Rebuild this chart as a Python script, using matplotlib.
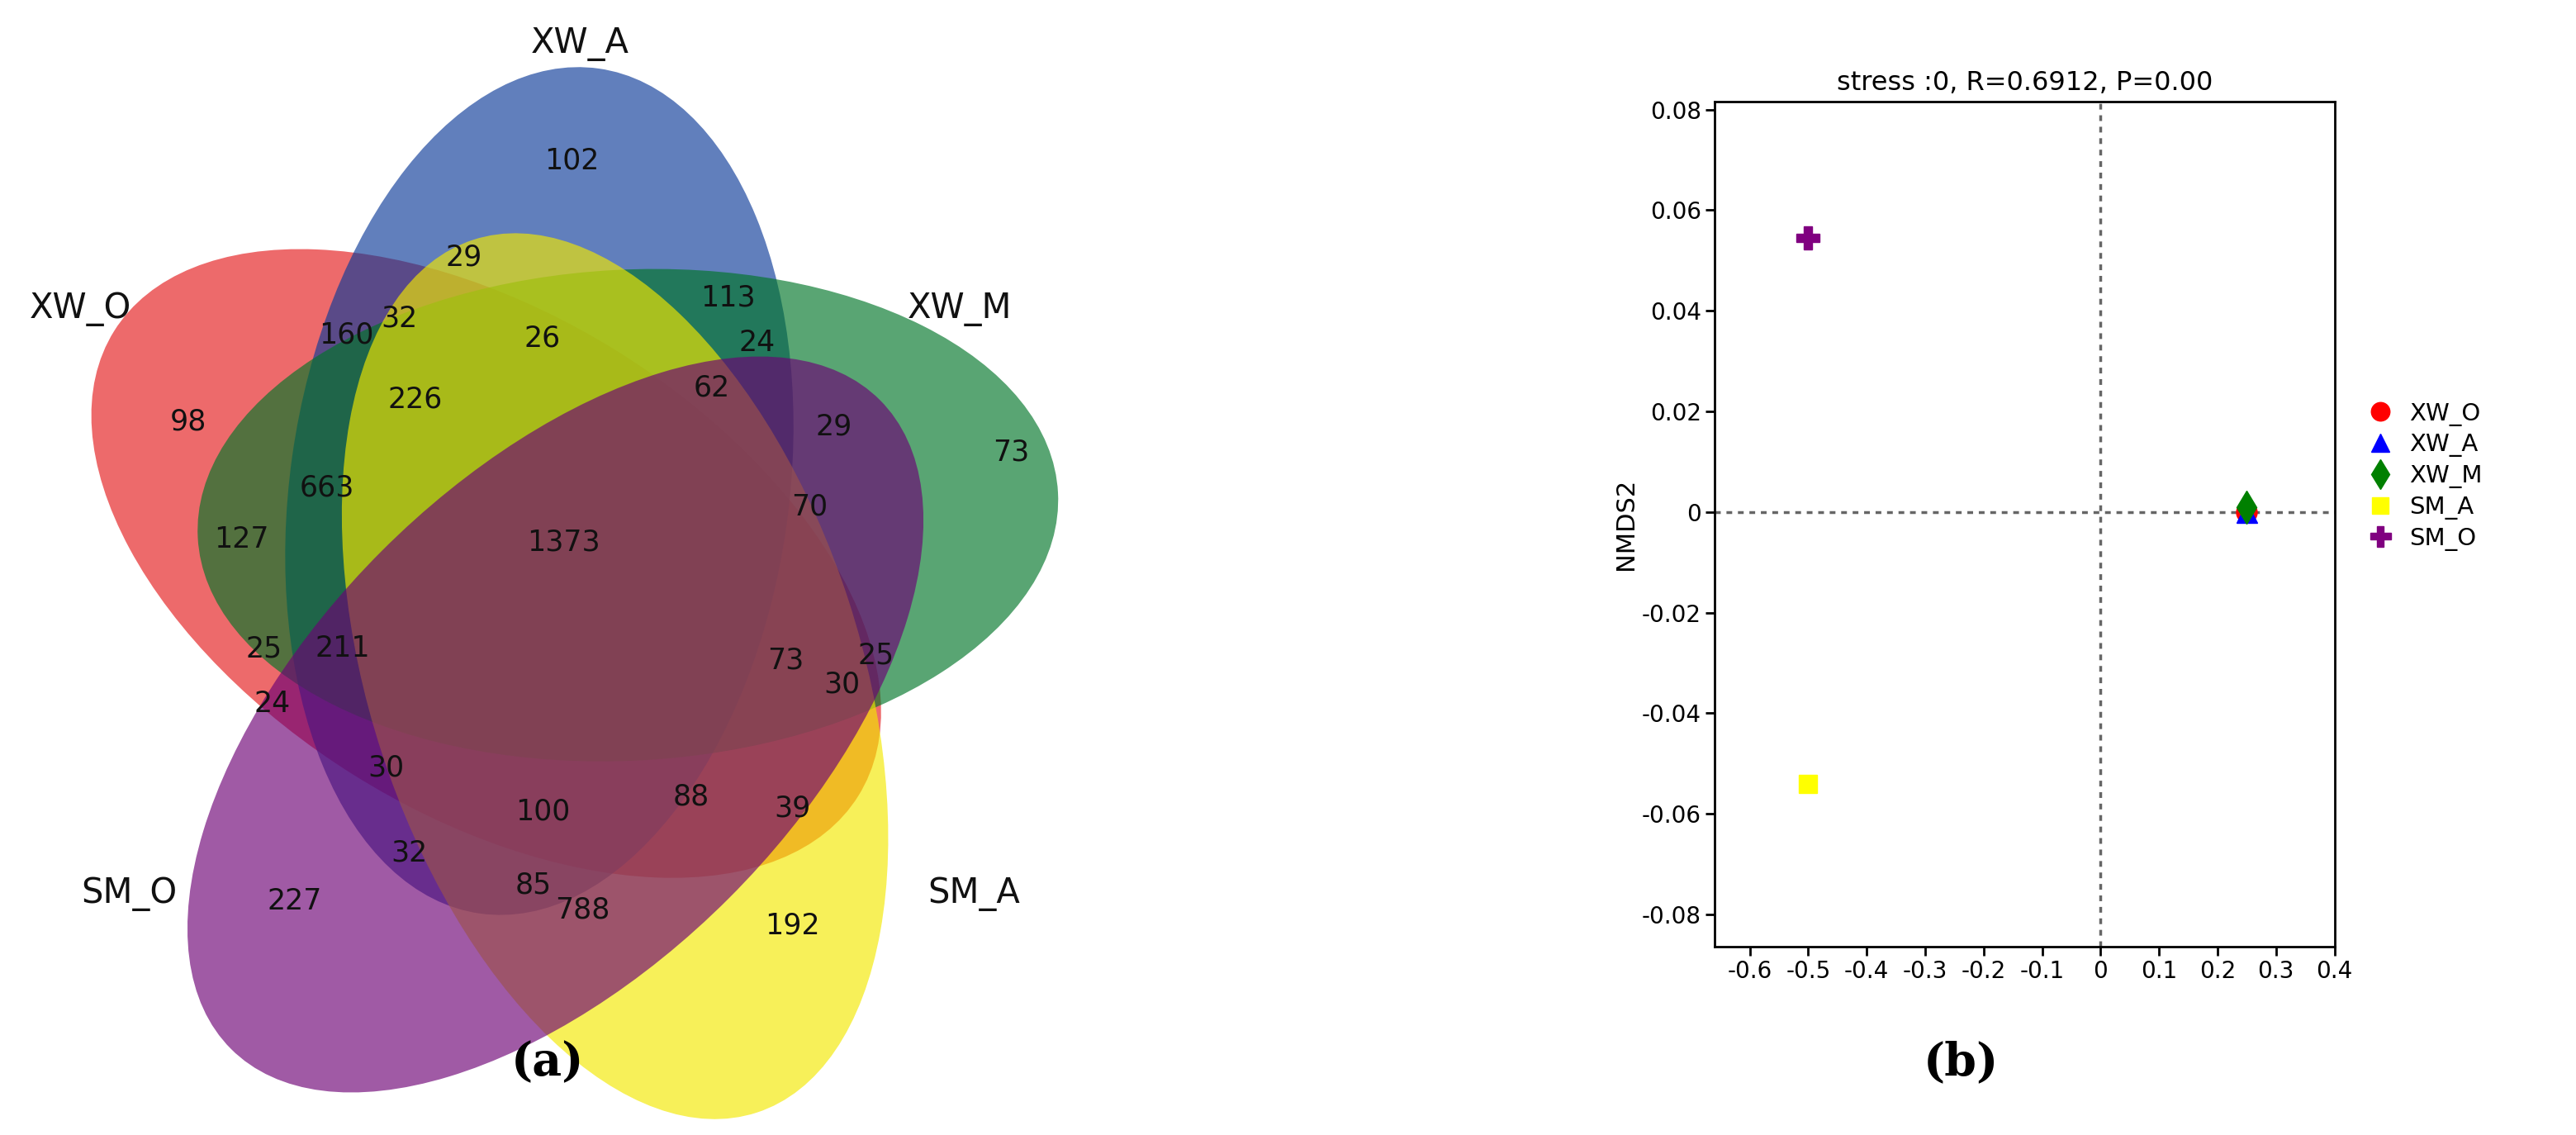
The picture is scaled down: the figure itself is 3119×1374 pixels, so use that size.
import matplotlib
matplotlib.use("Agg")
import matplotlib.pyplot as plt
from matplotlib.patches import Ellipse

# ---------------- data ----------------
set_names = ["XW_O", "XW_A", "XW_M", "SM_A", "SM_O"]
set_colors = ["#E41A1C", "#0C3A98", "#007528", "#F3E800", "#6D0175"]
# ellipse geometry in display units (center x, center y, angle deg)
ell_cx = [302, 335, 390, 382, 345]
ell_cy = [350, 305, 320, 420, 450]
ell_ang = [-32, 82, 3, 108, 45]
ell_len = [545, 530, 535, 570, 570]
ell_wid = [310, 310, 305, 305, 305]
set_label_x = [50, 360, 596, 605, 80]
set_label_y = [192, 27, 192, 555, 555]

counts = ["102", "29", "113", "32", "160", "26", "24", "98", "226", "62", "29", "73",
          "663", "70", "127", "1373", "25", "211", "73", "25", "30", "24", "30",
          "100", "88", "39", "32", "85", "788", "227", "192"]
count_x = [355, 288, 452, 248, 215, 337, 470, 117, 258, 442, 518, 628,
           203, 503, 150, 350, 164, 213, 488, 544, 523, 169, 240,
           337, 429, 492, 254, 331, 362, 183, 492]
count_y = [100, 160, 185, 198, 208, 210, 213, 262, 248, 241, 265, 281,
           303, 315, 335, 337, 403, 403, 410, 407, 425, 437, 477,
           504, 495, 502, 530, 550, 565, 560, 575]

nmds_groups = ["XW_O", "XW_A", "XW_M", "SM_A", "SM_O"]
nmds_x = [0.25, 0.25, 0.25, -0.5, -0.5]
nmds_y = [0.0, 0.0, 0.001, -0.054, 0.0545]
nmds_colors = ["red", "blue", "green", "yellow", "purple"]
nmds_markers = ["o", "^", "d", "s", "P"]
nmds_sizes = [18, 18, 20, 16, 20]
xticks = [-0.6, -0.5, -0.4, -0.3, -0.2, -0.1, 0, 0.1, 0.2, 0.3, 0.4]
xtick_labels = ["-0.6", "-0.5", "-0.4", "-0.3", "-0.2", "-0.1", "0", "0.1", "0.2", "0.3", "0.4"]
yticks = [-0.08, -0.06, -0.04, -0.02, 0, 0.02, 0.04, 0.06, 0.08]
ytick_labels = ["-0.08", "-0.06", "-0.04", "-0.02", "0", "0.02", "0.04", "0.06", "0.08"]

fig = plt.figure(figsize=(31.19, 13.74), dpi=100)

# ---------------- Venn ----------------
av = fig.add_axes([0, 0, 0.4125, 1])
av.set_xlim(0, 660)
av.set_ylim(705, 0)
av.axis("off")
for i in range(5):
    av.add_patch(Ellipse((ell_cx[i], ell_cy[i]), ell_len[i], ell_wid[i],
                         angle=-ell_ang[i], facecolor=set_colors[i],
                         alpha=0.65, edgecolor="none", zorder=i + 1))
for t, x, y in zip(counts, count_x, count_y):
    av.text(x, y, t, ha="center", va="center", fontsize=25, color="#111111", zorder=10)
for t, x, y in zip(set_names, set_label_x, set_label_y):
    av.text(x, y, t, ha="center", va="center", fontsize=30, color="#111111", zorder=10)
fig.text(340 / 1600, 1 - 660 / 705, "(a)", ha="center", va="center",
         fontsize=40, family="DejaVu Serif", fontweight="bold")
fig.text(1218 / 1600, 1 - 660 / 705, "(b)", ha="center", va="center",
         fontsize=40, family="DejaVu Serif", fontweight="bold")

# ---------------- NMDS ----------------
ax = fig.add_axes([1065 / 1600, 1 - 588 / 705, (1450 - 1065) / 1600, (588 - 63) / 705])
ax.axhline(0, color="#666666", ls=(0, (2, 2)), lw=2.5, zorder=1)
ax.axvline(0, color="#666666", ls=(0, (2, 2)), lw=2.5, zorder=1)
for g, x, y, c, m, s in zip(nmds_groups, nmds_x, nmds_y, nmds_colors, nmds_markers, nmds_sizes):
    ax.plot([x], [y], marker=m, color=c, ms=s, ls="none", label=g, zorder=3)
ax.set_xlim(-0.66, 0.4)
ax.set_ylim(-0.0864, 0.0816)
ax.set_xticks(xticks)
ax.set_xticklabels(xtick_labels)
ax.set_yticks(yticks)
ax.set_yticklabels(ytick_labels)
ax.tick_params(labelsize=20, width=2, length=8, direction="out")
for sp in ax.spines.values():
    sp.set_linewidth(2)
ax.set_ylabel("NMDS2", fontsize=22)
ax.set_title("stress :0, R=0.6912, P=0.00", fontsize=23, pad=10)
ax.legend(loc="upper left", bbox_to_anchor=(1.0, 0.67), frameon=False,
          fontsize=21, handletextpad=0.2, labelspacing=0.3, markerscale=0.9)

fig.savefig("out.png", dpi=100)
